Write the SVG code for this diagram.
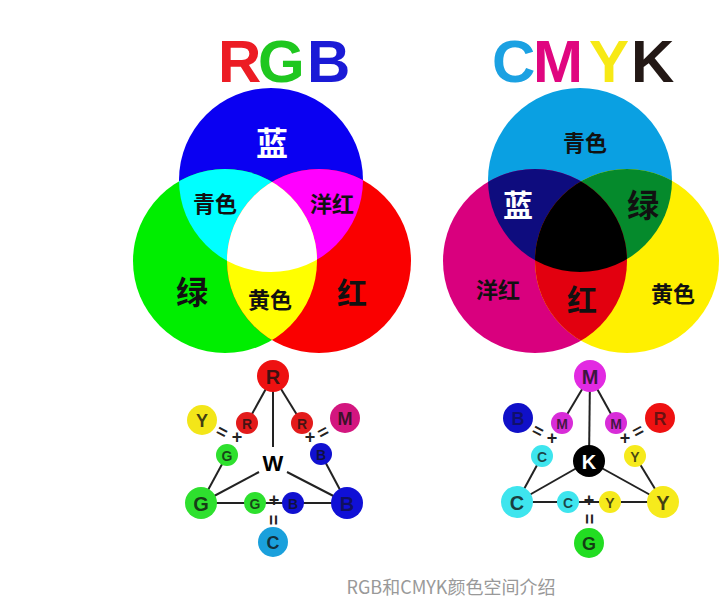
<svg xmlns="http://www.w3.org/2000/svg" width="721" height="607" viewBox="0 0 721 607">
<style>
.t{font-family:"Liberation Sans",Arial,sans-serif;font-weight:bold}
.cj{font-family:"Noto Sans CJK SC","Noto Sans",sans-serif;font-weight:bold;text-anchor:middle;dominant-baseline:central}
.ln{stroke:#222;stroke-width:2;fill:none}
.big{font-family:"Liberation Sans",Arial,sans-serif;font-weight:bold;font-size:20px;text-anchor:middle;dominant-baseline:central;fill:#111;fill-opacity:.8}
.md{font-size:18px}
.dk{fill-opacity:.5}
.sm{font-family:"Liberation Sans",Arial,sans-serif;font-weight:bold;font-size:14px;text-anchor:middle;dominant-baseline:central;fill:#111;fill-opacity:.75}
.op{font-family:"Liberation Sans",Arial,sans-serif;font-weight:bold;font-size:18px;text-anchor:middle;dominant-baseline:central;fill:#222}
</style>
<defs>
<clipPath id="cB"><circle cx="271" cy="180" r="92"/></clipPath>
<clipPath id="cG"><circle cx="225" cy="261" r="92"/></clipPath>
<clipPath id="cR"><circle cx="319" cy="261" r="92"/></clipPath>
<clipPath id="kC"><circle cx="580" cy="180" r="92"/></clipPath>
<clipPath id="kM"><circle cx="535" cy="261" r="92"/></clipPath>
<clipPath id="kY"><circle cx="627" cy="261" r="92"/></clipPath>
</defs>
<rect width="721" height="607" fill="#fff"/>

<g id="title-rgb" class="t" font-size="60">
<text x="218" y="82" fill="#ec1c24">R</text>
<text x="258" y="82" fill="#1fc71f">G</text>
<text x="307" y="82" fill="#1a1ad6">B</text>
</g>
<g id="title-cmyk" class="t" font-size="60">
<text x="492" y="82" fill="#1ba1e2">C</text>
<text x="533" y="82" fill="#e0067f">M</text>
<text x="589" y="82" fill="#f7e915">Y</text>
<text x="631" y="82" fill="#231815">K</text>
</g>

<g id="venn-rgb">
<circle cx="271" cy="180" r="92" fill="#0a00f2"/>
<circle cx="225" cy="261" r="92" fill="#00ee00"/>
<circle cx="319" cy="261" r="92" fill="#fa0000"/>
<circle cx="225" cy="261" r="92" fill="#00ffff" clip-path="url(#cB)"/>
<circle cx="319" cy="261" r="92" fill="#ff00ff" clip-path="url(#cB)"/>
<circle cx="319" cy="261" r="92" fill="#ffff00" clip-path="url(#cG)"/>
<g clip-path="url(#cB)"><circle cx="319" cy="261" r="92" fill="#ffffff" clip-path="url(#cG)"/></g>
<text class="cj" x="272" y="141" font-size="32" fill="#fff">蓝</text>
<text class="cj" x="215" y="202" font-size="22" fill="#111">青色</text>
<text class="cj" x="332" y="202" font-size="22" fill="#111">洋红</text>
<text class="cj" x="192" y="290" font-size="32" fill="#111">绿</text>
<text class="cj" x="270" y="298" font-size="22" fill="#111">黄色</text>
<text class="cj" x="352" y="291" font-size="30" fill="#111">红</text>
</g>

<g id="venn-cmyk">
<circle cx="580" cy="180" r="92" fill="#0aa0e2"/>
<circle cx="535" cy="261" r="92" fill="#d9007e"/>
<circle cx="627" cy="261" r="92" fill="#fff000"/>
<circle cx="535" cy="261" r="92" fill="#0e0c7e" clip-path="url(#kC)"/>
<circle cx="627" cy="261" r="92" fill="#058a2c" clip-path="url(#kC)"/>
<circle cx="627" cy="261" r="92" fill="#e2000f" clip-path="url(#kM)"/>
<g clip-path="url(#kC)"><circle cx="627" cy="261" r="92" fill="#000" clip-path="url(#kM)"/></g>
<text class="cj" x="585" y="141" font-size="22" fill="#111">青色</text>
<text class="cj" x="518" y="203" font-size="30" fill="#fff">蓝</text>
<text class="cj" x="643" y="203" font-size="32" fill="#111">绿</text>
<text class="cj" x="498" y="288" font-size="22" fill="#111">洋红</text>
<text class="cj" x="582" y="298" font-size="30" fill="#111">红</text>
<text class="cj" x="673" y="292" font-size="22" fill="#111">黄色</text>
</g>

<g id="connectors">
<line class="ln" x1="273" y1="376" x2="247" y2="423"/>
<line class="ln" x1="273" y1="376" x2="302" y2="423"/>
<line class="ln" x1="273" y1="376" x2="273" y2="447"/>
<line class="ln" x1="227" y1="455" x2="201" y2="503"/>
<line class="ln" x1="321" y1="454" x2="347" y2="503"/>
<line class="ln" x1="201" y1="503" x2="347" y2="503"/>
<line class="ln" x1="259" y1="472" x2="201" y2="503"/>
<line class="ln" x1="287" y1="472" x2="347" y2="503"/>
<line class="ln" x1="590" y1="376" x2="562" y2="423"/>
<line class="ln" x1="590" y1="376" x2="616" y2="423"/>
<line class="ln" x1="590" y1="376" x2="589" y2="461"/>
<line class="ln" x1="542" y1="456" x2="517" y2="502"/>
<line class="ln" x1="635" y1="456" x2="663" y2="502"/>
<line class="ln" x1="589" y1="461" x2="517" y2="502"/>
<line class="ln" x1="589" y1="461" x2="663" y2="502"/>
<line class="ln" x1="517" y1="502" x2="663" y2="502"/>
</g>

<g id="rgb-R"><circle cx="273" cy="376" r="16" fill="#ee1111"/><text class="big" x="273" y="377">R</text></g>
<g id="rgb-R1"><circle cx="247" cy="423" r="11" fill="#e31b1b"/><text class="sm" x="247" y="424">R</text></g>
<g id="rgb-R2"><circle cx="302" cy="423" r="11" fill="#e31b1b"/><text class="sm" x="302" y="424">R</text></g>
<g id="rgb-Y"><circle cx="202" cy="420" r="15" fill="#f3e619"/><text class="big md" x="202" y="421">Y</text></g>
<g id="rgb-M"><circle cx="345" cy="418" r="15" fill="#d3167f"/><text class="big md" x="345" y="419">M</text></g>
<g id="rgb-G1"><circle cx="227" cy="455" r="11" fill="#2ee02e"/><text class="sm" x="227" y="456">G</text></g>
<g id="rgb-B1"><circle cx="321" cy="454" r="11" fill="#1010d0"/><text class="sm dk" x="321" y="455">B</text></g>
<g id="rgb-W"><text class="big" x="273" y="463" style="font-size:22px;fill:#000;fill-opacity:1">W</text></g>
<g id="rgb-G"><circle cx="201" cy="503" r="16" fill="#2ee02e"/><text class="big" x="201" y="504">G</text></g>
<g id="rgb-B"><circle cx="347" cy="503" r="16" fill="#1010d6"/><text class="big" x="347" y="504" style="fill-opacity:.6">B</text></g>
<g id="rgb-G2"><circle cx="255" cy="503" r="11" fill="#2ee02e"/><text class="sm" x="255" y="504">G</text></g>
<g id="rgb-B2"><circle cx="293" cy="503" r="11" fill="#1010d0"/><text class="sm dk" x="293" y="504">B</text></g>
<g id="rgb-C"><circle cx="273" cy="542" r="15" fill="#1aa0dc"/><text class="big md" x="273" y="543">C</text></g>
<g id="rgb-ops">
<text class="op" x="274" y="500">+</text>
<text class="op" transform="translate(273 520) rotate(90)">=</text>
<text class="op" transform="translate(222 432) rotate(28)">=</text>
<text class="op" x="237" y="437">+</text>
<text class="op" x="310" y="437">+</text>
<text class="op" transform="translate(323 432) rotate(-28)">=</text>
</g>

<g id="cmyk-M"><circle cx="590" cy="376" r="16" fill="#e22ae2"/><text class="big" x="590" y="377">M</text></g>
<g id="cmyk-M1"><circle cx="562" cy="423" r="11" fill="#d82cd8"/><text class="sm" x="562" y="424">M</text></g>
<g id="cmyk-M2"><circle cx="616" cy="423" r="11" fill="#d82cd8"/><text class="sm" x="616" y="424">M</text></g>
<g id="cmyk-B"><circle cx="518" cy="418" r="15" fill="#1010c8"/><text class="big md dk" x="518" y="419">B</text></g>
<g id="cmyk-R"><circle cx="660" cy="418" r="15" fill="#ee1111"/><text class="big md" x="660" y="419" style="fill-opacity:.6">R</text></g>
<g id="cmyk-C1"><circle cx="542" cy="456" r="11" fill="#3ee5ee"/><text class="sm" x="542" y="457">C</text></g>
<g id="cmyk-Y1"><circle cx="635" cy="456" r="11" fill="#f6ea1c"/><text class="sm" x="635" y="457">Y</text></g>
<g id="cmyk-K"><circle cx="589" cy="461" r="16" fill="#000"/><text class="big" x="589" y="462" style="fill:#fff;fill-opacity:1">K</text></g>
<g id="cmyk-C"><circle cx="517" cy="502" r="16" fill="#3ee5ee"/><text class="big" x="517" y="503">C</text></g>
<g id="cmyk-Y"><circle cx="663" cy="502" r="16" fill="#f6ea1c"/><text class="big" x="663" y="503">Y</text></g>
<g id="cmyk-C2"><circle cx="568" cy="502" r="11" fill="#3ee5ee"/><text class="sm" x="568" y="503">C</text></g>
<g id="cmyk-Y2"><circle cx="610" cy="502" r="11" fill="#f6ea1c"/><text class="sm" x="610" y="503">Y</text></g>
<g id="cmyk-G"><circle cx="589" cy="543" r="15" fill="#22dd22"/><text class="big md" x="589" y="544">G</text></g>
<g id="cmyk-ops">
<text class="op" x="589" y="500">+</text>
<text class="op" transform="translate(589 519) rotate(90)">=</text>
<text class="op" transform="translate(538 431) rotate(28)">=</text>
<text class="op" x="552" y="438">+</text>
<text class="op" x="625" y="438">+</text>
<text class="op" transform="translate(638 431) rotate(-28)">=</text>
</g>

<text id="caption" x="451" y="594" font-family="'Noto Sans CJK SC','Noto Sans',sans-serif" font-size="18" fill="#999" text-anchor="middle">RGB和CMYK颜色空间介绍</text>
</svg>
